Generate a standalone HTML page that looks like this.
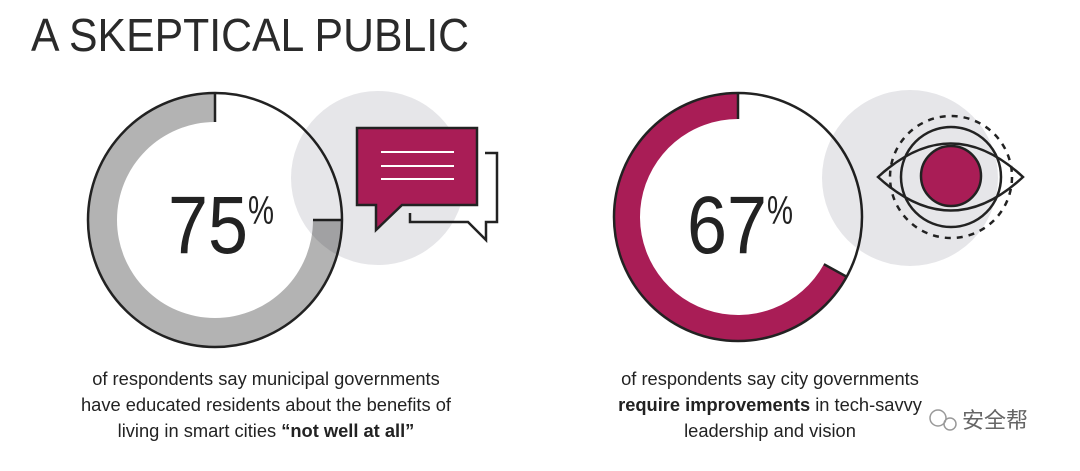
<!DOCTYPE html>
<html><head><meta charset="utf-8"><style>
body{margin:0;width:1080px;height:466px;background:#fff;overflow:hidden;font-family:"Liberation Sans","Noto Sans CJK SC",sans-serif;}
</style></head><body>
<svg id="chart" width="1080" height="466" viewBox="0 0 1080 466" xmlns="http://www.w3.org/2000/svg">
<text x="31" y="51" font-size="46" textLength="438" lengthAdjust="spacingAndGlyphs" fill="#2a2a2a" font-family="Liberation Sans, sans-serif">A SKEPTICAL PUBLIC</text>
<g id="rings"></g>
<g>
<path d="M485,153 H497 V222 H486 V240 L468,222 H410 V213" fill="none" stroke="#222" stroke-width="2.5"/>
<path d="M357,128 H477 V205 H402 L376,230 V205 H357 Z" fill="#a91d56" stroke="#222" stroke-width="2.5"/>
<path d="M381,152 H454 M381,166 H454 M381,179 H454" stroke="#fff" stroke-width="2"/>
</g>
<g fill="none" stroke="#222" stroke-width="2.5">
<circle cx="951" cy="177" r="61" stroke-dasharray="6 6" stroke-width="2.5"/>
<path d="M878,177 Q951,110 1023,177 Q951,244 878,177 Z"/>
<circle cx="951" cy="177" r="50"/>
<circle cx="951" cy="176" r="30" fill="#a91d56"/>
</g>
<g font-size="18.3" fill="#222" text-anchor="middle" font-family="Liberation Sans, sans-serif">
<text><tspan x="266" y="385">of respondents say municipal governments</tspan><tspan x="266" y="411">have educated residents about the benefits of</tspan><tspan x="266" y="437">living in smart cities <tspan font-weight="bold">“not well at all”</tspan></tspan></text>
<text><tspan x="770" y="385">of respondents say city governments</tspan><tspan x="770" y="411"><tspan font-weight="bold">require improvements</tspan> in tech-savvy</tspan><tspan x="770" y="437">leadership and vision</tspan></text>
</g>
<g fill="#888">
<circle cx="938" cy="418" r="8" fill="none" stroke="#999" stroke-width="1.5"/>
<circle cx="950" cy="424" r="6" fill="none" stroke="#999" stroke-width="1.5"/>
<text x="962" y="428" font-size="22" font-family="Liberation Sans, Noto Sans CJK SC, sans-serif" fill="#666">安全帮</text>
</g>
</svg>
<script>
const labels = ["75", "67"];
const values = [75, 67];
const colors = ["#b3b3b3", "#a91d56"];
const ns = "http://www.w3.org/2000/svg";
const geo = [{cx:215,cy:220,r:127,w:29,bx:378,by:178,br:87,nx:168,px:248},{cx:738,cy:217,r:124,w:26,bx:910,by:178,br:88,nx:687,px:767}];
const g = document.getElementById('rings');
function pt(cx,cy,r,frac){const a=-Math.PI/2 - frac*2*Math.PI;return [cx+r*Math.cos(a),cy+r*Math.sin(a)];}
values.forEach((v,i)=>{
  const c=geo[i], f=v/100, ri=c.r-c.w;
  const grp=document.createElementNS(ns,'g');
  
  
  const bg=document.createElementNS(ns,'circle');
  bg.setAttribute('cx',c.cx);bg.setAttribute('cy',c.cy);bg.setAttribute('r',c.r);bg.setAttribute('fill','#fff');
  grp.appendChild(bg);
  const [x1,y1]=pt(c.cx,c.cy,c.r,0),[x2,y2]=pt(c.cx,c.cy,c.r,f),[x3,y3]=pt(c.cx,c.cy,ri,f),[x4,y4]=pt(c.cx,c.cy,ri,0);
  const large=f>0.5?1:0;
  const arc=document.createElementNS(ns,'path');
  
  
  arc.setAttribute('d',`M${x1},${y1} A${c.r},${c.r} 0 ${large} 0 ${x2},${y2} L${x3},${y3} A${ri},${ri} 0 ${large} 1 ${x4},${y4} Z`);
  arc.setAttribute('fill',colors[i]);
  grp.appendChild(arc);
  const ends=document.createElementNS(ns,'path');
  ends.setAttribute('d',`M${x1},${y1} L${x4},${y4} M${x2},${y2} L${x3},${y3}`);
  ends.setAttribute('stroke','#222');ends.setAttribute('stroke-width','2.5');
  grp.appendChild(ends);
  const ol=document.createElementNS(ns,'circle');
  ol.setAttribute('cx',c.cx);ol.setAttribute('cy',c.cy);ol.setAttribute('r',c.r);ol.setAttribute('fill','none');ol.setAttribute('stroke','#222');ol.setAttribute('stroke-width','2.5');
  grp.appendChild(ol);
  const bc=document.createElementNS(ns,'circle');
  
  
  bc.setAttribute('cx',c.bx);bc.setAttribute('cy',c.by);bc.setAttribute('r',c.br);bc.setAttribute('fill','#e6e6e9');
  bc.style.mixBlendMode='multiply';
  grp.appendChild(bc);
  const t=document.createElementNS(ns,'text');
  
  
  t.setAttribute('x',c.nx);t.setAttribute('y',253);t.setAttribute('font-size','82');t.setAttribute('fill','#222');
  t.setAttribute('textLength','80');t.setAttribute('lengthAdjust','spacingAndGlyphs');
  t.setAttribute('font-family','Liberation Sans, sans-serif');
  t.textContent=labels[i];
  grp.appendChild(t);
  const p=document.createElementNS(ns,'text');
  
  
  p.setAttribute('x',c.px);p.setAttribute('y',224);p.setAttribute('font-size','40');p.setAttribute('fill','#222');
  p.setAttribute('textLength','26');p.setAttribute('lengthAdjust','spacingAndGlyphs');
  p.textContent='%';
  grp.appendChild(p);
  g.appendChild(grp);
});
</script>
</body></html>
